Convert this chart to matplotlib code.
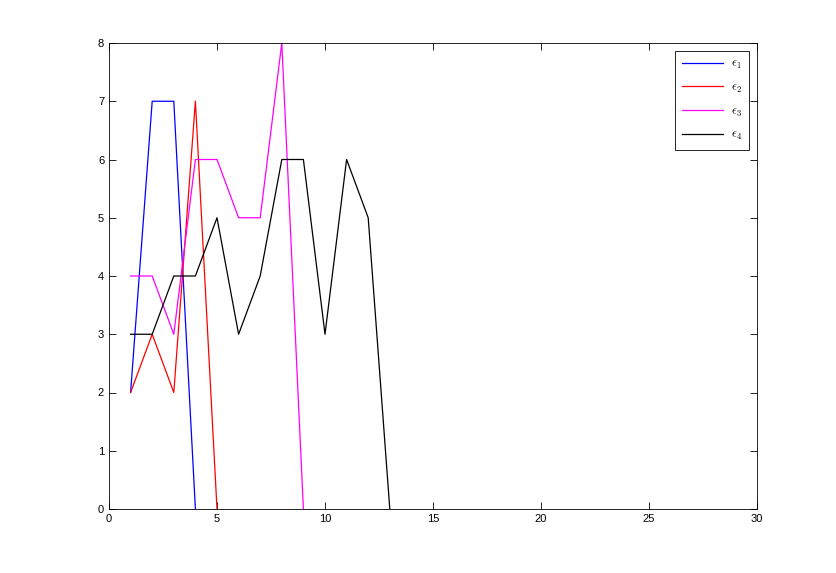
import matplotlib
matplotlib.use("Agg")
import matplotlib.pyplot as plt

plt.rcParams["mathtext.fontset"] = "cm"
plt.rcParams["font.family"] = ["Liberation Sans", "DejaVu Sans"]

# values per step, 1-based index
e1 = [2, 7, 7, 0]
e2 = [2, 3, 2, 7, 0]
e3 = [4, 4, 3, 6, 6, 5, 5, 8, 0]
e4 = [3, 3, 4, 4, 5, 3, 4, 6, 6, 3, 6, 5, 0]

SERIES = [
    (e1, "#0000ff", r"$\epsilon_1$"),
    (e2, "#ff0000", r"$\epsilon_2$"),
    (e3, "#ff00ff", r"$\epsilon_3$"),
    (e4, "#000000", r"$\epsilon_4$"),
]

fig = plt.figure(figsize=(8.37, 5.73), dpi=100)
ax = fig.add_axes([109 / 837, 1 - 509 / 573, 648 / 837, 466 / 573])

for vals, color, label in SERIES:
    ax.plot(range(1, len(vals) + 1), vals, color=color, linewidth=0.9,
            label=label)

ax.set_xlim(0, 30)
ax.set_ylim(0, 8)
ax.set_xticks(range(0, 31, 5))
ax.set_yticks(range(0, 9))
ax.tick_params(direction="in", top=True, right=True, labelsize=8,
               length=5, width=0.6)
for sp in ax.spines.values():
    sp.set_linewidth(0.6)

leg = ax.legend(loc="upper right", fontsize=9, fancybox=False,
                framealpha=1, edgecolor="black", handlelength=3.3,
                handletextpad=0.6, borderpad=0.6,
                borderaxespad=0.6, labelspacing=0.85)
leg.get_frame().set_linewidth(0.6)

fig.savefig("out.png", dpi=100, facecolor="white")
